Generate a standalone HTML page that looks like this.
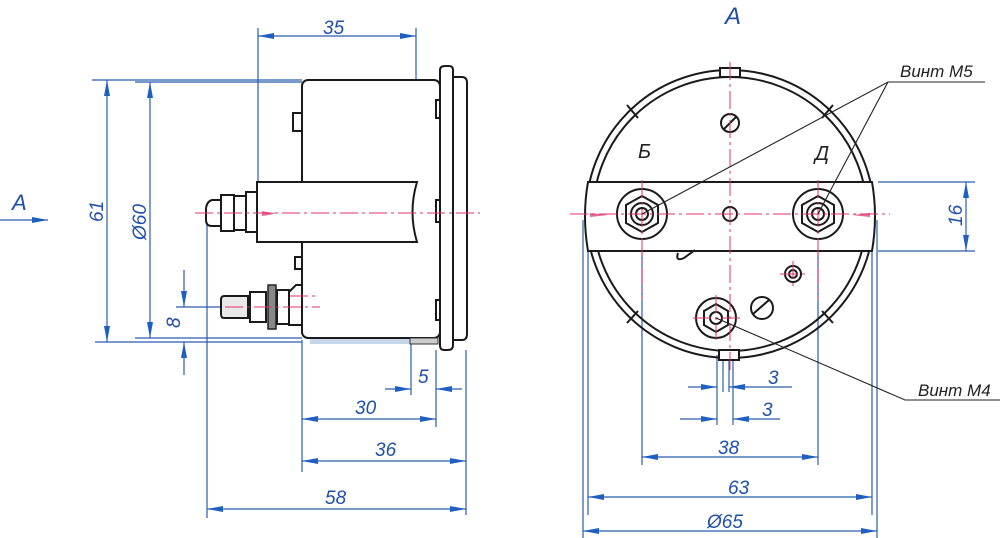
<!DOCTYPE html>
<html><head><meta charset="utf-8"><style>
html,body{margin:0;padding:0;background:#fff;}
svg{display:block;}
.b{stroke:#1a1a1a;stroke-width:2;fill:none;}
.bf{stroke:#1a1a1a;stroke-width:2;fill:#fff;}
.d{stroke:#2a5db0;stroke-width:1.2;fill:none;}
.c{stroke:#e0306a;stroke-width:1;fill:none;stroke-dasharray:18 4 3 4;}
.t{font-family:"Liberation Sans",sans-serif;font-style:italic;font-size:19px;fill:#1f4fa8;}
.tk{font-family:"Liberation Sans","Noto Sans CJK SC",sans-serif;font-style:italic;font-size:17px;fill:#222;}
</style></head><body>
<svg width="1000" height="538" viewBox="0 0 1000 538" xmlns="http://www.w3.org/2000/svg">
<defs>
<marker id="a" viewBox="0 0 16 6" refX="16" refY="3" markerWidth="16" markerHeight="6" orient="auto-start-reverse" markerUnits="userSpaceOnUse"><path d="M0,0L16,3L0,6z" fill="#1f5fc0"/></marker>
</defs>

<g class="d">
<line x1="258" y1="28" x2="258" y2="182"/><line x1="416" y1="28" x2="416" y2="182"/>
<line x1="258" y1="36" x2="416" y2="36" marker-start="url(#a)" marker-end="url(#a)"/>
<line x1="92" y1="80" x2="302" y2="80"/><line x1="95" y1="342" x2="302" y2="342"/>
<line x1="107" y1="80" x2="107" y2="342" marker-start="url(#a)" marker-end="url(#a)"/>
<line x1="135" y1="338" x2="302" y2="338"/><line x1="135" y1="82" x2="302" y2="82"/>
<line x1="150" y1="82" x2="150" y2="338" marker-start="url(#a)" marker-end="url(#a)"/>
<line x1="176" y1="307" x2="225" y2="307"/>
<line x1="184" y1="270" x2="184" y2="307" marker-end="url(#a)"/>
<line x1="184" y1="375" x2="184" y2="342" marker-end="url(#a)"/>
<line x1="207" y1="215" x2="207" y2="518"/>
<line x1="302" y1="340" x2="302" y2="472"/>
<line x1="411" y1="342" x2="411" y2="395"/>
<line x1="436" y1="350" x2="436" y2="427"/>
<line x1="466" y1="350" x2="466" y2="515"/>
<line x1="385" y1="389" x2="411" y2="389" marker-end="url(#a)"/>
<line x1="462" y1="389" x2="436" y2="389" marker-end="url(#a)"/>
<line x1="302" y1="419" x2="436" y2="419" marker-start="url(#a)" marker-end="url(#a)"/>
<line x1="302" y1="461" x2="466" y2="461" marker-start="url(#a)" marker-end="url(#a)"/>
<line x1="207" y1="509" x2="466" y2="509" marker-start="url(#a)" marker-end="url(#a)"/>
<line x1="0" y1="220" x2="48" y2="220" marker-end="url(#a)"/>
</g>
<rect x="310" y="339" width="100" height="5" fill="#c8d6ea"/>
<text class="t" x="323" y="34">35</text>
<text class="t" transform="translate(103,222) rotate(-90)">61</text>
<text class="t" transform="translate(146,240) rotate(-90)">Ø60</text>
<text class="t" transform="translate(180,328) rotate(-90)">8</text>
<text class="t" x="418" y="383">5</text>
<text class="t" x="355" y="414">30</text>
<text class="t" x="375" y="456">36</text>
<text class="t" x="325" y="504">58</text>
<text class="t" x="12" y="210" style="font-size:22px">A</text>

<rect class="bf" x="302" y="80" width="138" height="258" rx="6"/>
<rect class="bf" x="293" y="113" width="9" height="18"/>
<rect x="410" y="338" width="28" height="6" fill="#ccc" stroke="#333"/>
<path class="bf" d="M451,77 L462,77 Q467,77 467,83 L467,334 Q467,340 462,340 L451,340 Z"/>
<path class="bf" d="M440,70 Q440,66 445,66 L449,66 Q453,66 453,70 L453,345 Q453,350 448,350 L444,350 Q440,350 440,345 Z"/>
<path class="b" d="M440,100 L436,100 L436,118 L440,118 M440,200 L436,200 L436,222 L440,222 M440,300 L436,300 L436,320 L440,320"/>
<path class="bf" d="M257,182 L417,182 Q408,212 417,242 L257,242 Z"/>
<path d="M262,211 Q270,213 278,213 Q270,215 262,216 Z" fill="#e56a9a"/>
<rect class="bf" x="246" y="192" width="11" height="40"/>
<rect class="bf" x="234" y="196" width="12" height="34"/>
<rect class="bf" x="221" y="195" width="13" height="36"/>
<path class="bf" d="M221,200 L212,200 Q206,202 206,210 L206,220 Q206,226 212,226 L221,226 Z"/>
<rect class="bf" x="295" y="257" width="7" height="12"/>
<path class="bf" d="M224,296 L248,296 L248,318 L224,318 Q221,318 221,314 L221,300 Q221,296 224,296 Z" style="fill:#e8e8e8"/>
<rect class="bf" x="250" y="292" width="16" height="30"/>
<rect x="268" y="285" width="8" height="44" fill="#888" stroke="#222" stroke-width="1.5"/>
<rect class="bf" x="277" y="290" width="12" height="34"/>
<path class="bf" d="M289,292 L296,285 L302,285 L302,325 L289,325 Z"/>
<line class="c" x1="195" y1="213" x2="480" y2="213"/>
<line class="c" x1="225" y1="307" x2="320" y2="307"/>
<line class="c" x1="290" y1="296" x2="315" y2="296"/>

<g class="d">
<line x1="642" y1="250" x2="642" y2="465"/><line x1="818" y1="250" x2="818" y2="465"/>
<line x1="588" y1="250" x2="588" y2="515"/><line x1="872" y1="250" x2="872" y2="515"/>
<line x1="583" y1="220" x2="583" y2="538"/><line x1="877" y1="220" x2="877" y2="538"/>
<line x1="717" y1="355" x2="717" y2="425"/><line x1="723" y1="355" x2="723" y2="392"/>
<line x1="729" y1="355" x2="729" y2="392"/><line x1="733" y1="355" x2="733" y2="425"/>
<line x1="688" y1="387" x2="717" y2="387" marker-end="url(#a)"/>
<line x1="792" y1="387" x2="729" y2="387" marker-end="url(#a)"/>
<line x1="680" y1="419" x2="717" y2="419" marker-end="url(#a)"/>
<line x1="780" y1="419" x2="733" y2="419" marker-end="url(#a)"/>
<line x1="642" y1="457" x2="818" y2="457" marker-start="url(#a)" marker-end="url(#a)"/>
<line x1="588" y1="497" x2="872" y2="497" marker-start="url(#a)" marker-end="url(#a)"/>
<line x1="583" y1="531" x2="877" y2="531" marker-start="url(#a)" marker-end="url(#a)"/>
<line x1="878" y1="182" x2="975" y2="182"/><line x1="878" y1="251" x2="975" y2="251"/>
<line x1="966" y1="182" x2="966" y2="251" marker-start="url(#a)" marker-end="url(#a)"/>
</g>
<text class="t" x="768" y="384">3</text>
<text class="t" x="762" y="416">3</text>
<text class="t" x="718" y="454">38</text>
<text class="t" x="728" y="494">63</text>
<text class="t" x="707" y="528">Ø65</text>
<text class="t" transform="translate(962,226) rotate(-90)">16</text>
<text class="t" x="725" y="24" style="font-size:24px">A</text>

<circle class="b" cx="730" cy="214" r="144"/>
<circle class="b" cx="730" cy="214" r="137"/>
<g class="bf">
<rect x="720" y="68" width="20" height="9"/>
<rect x="719" y="350" width="20" height="10"/>
</g>
<g class="b" stroke-width="1.5">
<line x1="627" y1="105" x2="638" y2="118"/><line x1="833" y1="105" x2="822" y2="118"/>
<line x1="627" y1="323" x2="638" y2="311"/><line x1="833" y1="323" x2="822" y2="311"/>
</g>
<path class="bf" d="M588,182 L872,182 Q878,216 872,251 L588,251 Q582,216 588,182 Z"/>
<path d="M590,213 Q600,214 608,215 Q600,216 590,217Z M870,213 Q860,214 852,215 Q860,216 870,217Z" fill="#e56a9a"/>
<g class="b" stroke-width="1.6">
<circle cx="642" cy="214" r="25"/><circle cx="818" cy="214" r="25"/>
<polygon points="642,196 658,205 658,223 642,232 626,223 626,205"/>
<polygon points="818,196 834,205 834,223 818,232 802,223 802,205"/>
<circle cx="642" cy="214" r="11"/><circle cx="818" cy="214" r="11"/>
<circle cx="642" cy="214" r="6"/><circle cx="818" cy="214" r="6"/>
<circle cx="730" cy="214" r="7"/>
<circle cx="730" cy="123" r="9"/><line x1="724" y1="129" x2="736" y2="117"/>
<circle cx="716" cy="318" r="20"/>
<polygon points="716,304 728,311 728,325 716,332 704,325 704,311"/>
<circle cx="716" cy="318" r="6"/>
<circle cx="762" cy="308" r="11"/><line x1="753" y1="314" x2="769" y2="300"/>
<circle cx="793" cy="274" r="8"/><circle cx="793" cy="274" r="4"/>
<path d="M678,253 Q675,262 684,258 L695,250"/>
</g>
<g class="c">
<line x1="730" y1="62" x2="730" y2="372"/>
<line x1="570" y1="214" x2="890" y2="214"/>
<line x1="642" y1="180" x2="642" y2="300"/><line x1="818" y1="180" x2="818" y2="300"/>
<line x1="693" y1="318" x2="740" y2="318"/><line x1="716" y1="295" x2="716" y2="340"/>
<line x1="780" y1="274" x2="808" y2="274"/><line x1="793" y1="261" x2="793" y2="287"/>
</g>

<g stroke="#222" stroke-width="1.1" fill="none">
<path d="M642,214 L888,82 L985,82"/>
<path d="M818,214 L888,82"/>
<path d="M716,318 L905,400 L1000,400"/>
</g>
<text class="tk" x="900" y="77">Винт М5</text>
<text class="tk" x="918" y="396">Винт М4</text>
<text class="tk" x="638" y="158" style="font-size:20px">Б</text>
<text class="tk" x="815" y="160" style="font-size:20px">Д</text>
</svg>
</body></html>
